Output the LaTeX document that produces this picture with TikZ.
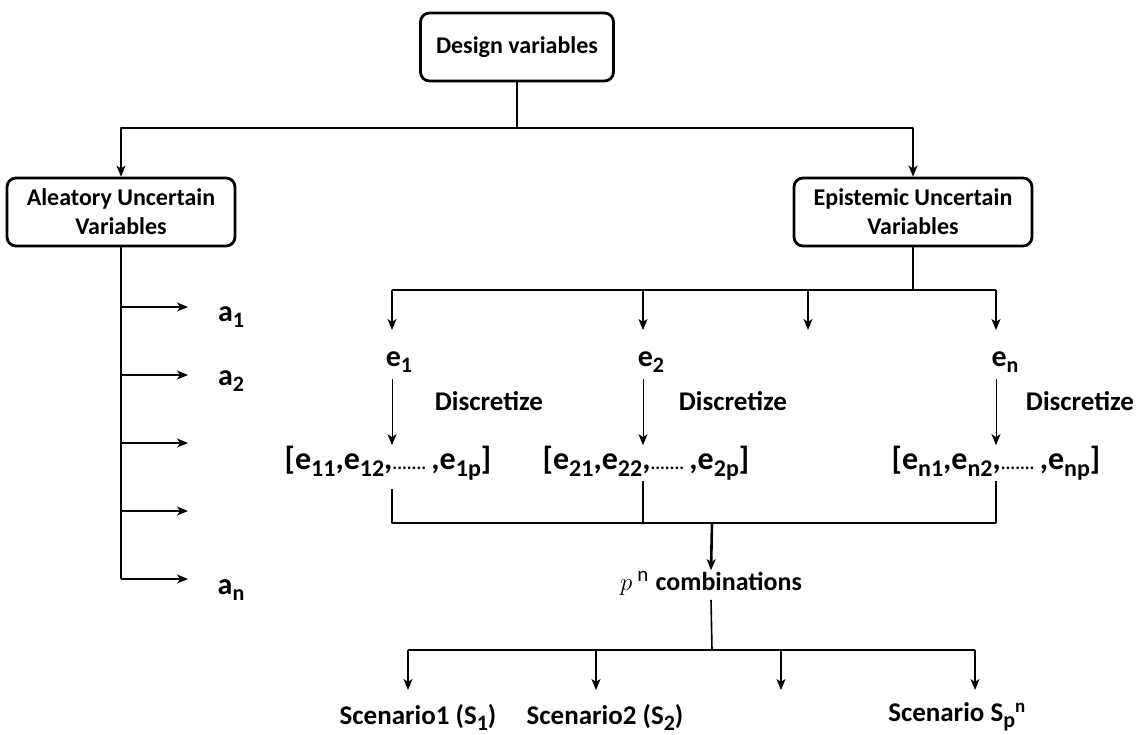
\documentclass[tikz,border=0pt]{standalone}
\usepackage{fontspec}
\setmainfont{Carlito}
\usetikzlibrary{arrows.meta}
\newcommand{\dotsline}{{\fontsize{18}{18}\selectfont.......}}
\newcommand{\lo}[1]{\raisebox{-0.22em}{\fontsize{22}{22}\selectfont #1}}
\newcommand{\lob}[1]{\raisebox{-0.22em}{\fontsize{24}{24}\selectfont #1}}
\begin{document}
\begin{tikzpicture}[x=1pt,y=-1pt,>={Stealth[length=11pt,width=9pt,inset=3pt]},line join=round,line width=1.6pt,
	hop/.style={draw,line width=2.8pt,rounded corners=9pt,align=center,inner sep=0pt,minimum height=68pt,font=\fontsize{24}{29}\selectfont\bfseries},
	var/.style={inner sep=0pt,font=\fontsize{30}{32}\selectfont\bfseries},
	set/.style={inner sep=0pt,font=\fontsize{32}{34}\selectfont\bfseries},
	note/.style={inner sep=0pt,font=\fontsize{27}{29}\selectfont\bfseries},
	thin/.style={line width=1pt}]
	\useasboundingbox (0,0) rectangle (1147,734);
	% cac hop
	\node[hop,minimum width=193pt] (dv) at (517,47) {Design variables};
	\node[hop,minimum width=228pt] (al) at (121,212) {Aleatory Uncertain\\Variables};
	\node[hop,minimum width=238pt] (ep) at (913,212) {Epistemic Uncertain\\Variables};
	\path
	(517,128) coordinate (J)
	(121,579) coordinate (A)
	(913,290) coordinate (E)
	(392,290) coordinate (E1) (643,290) coordinate (E2) (808,290) coordinate (E3) (996,290) coordinate (E4)
	(392,523) coordinate (B1) (643,523) coordinate (B2) (996,523) coordinate (B3) (712,523) coordinate (B)
	(712,650) coordinate (C)
	(408,650) coordinate (C1) (596,650) coordinate (C2) (781,650) coordinate (C3) (975,650) coordinate (C4);
	% nhanh tren
	\draw (dv) -- (J);
	\draw[->] (J) -| (al);
	\draw[->] (J) -| (ep);
	% bien ngau nhien
	\draw (al) -- (A);
	\foreach \y [count=\i] in {307,375,443,511,579}{
		\path (121,\y) coordinate (s\i) (188,\y) coordinate (t\i);
		\draw[->] (s\i) -- (t\i);
	}
	\node[var] (a1) at (231,317) {a\lo{1}};
	\node[var] (a2) at (231,381) {a\lo{2}};
	\node[var] (an) at (231,590) {a\lo{n}};
	% bien nhan thuc
	\draw (ep) -- (E);
	\draw (E1) -- (E4);
	\foreach \k in {1,...,4}{
		\draw[->] (E\k) -- ++(0,40);
	}
	\node[var] (e1) at (399,362) {e\lo{1}};
	\node[var] (e2) at (651,362) {e\lo{2}};
	\node[var] (en) at (1005,362) {e\lo{n}};
	\node[note] (d1) at (489,401) {Discretize};
	\node[note] (d2) at (733,401) {Discretize};
	\node[note] (dn) at (1080,401) {Discretize};
	\node[set] (r1) at (388,463) {[e\lob{11},e\lob{12},\dotsline\,,e\lob{1p}]};
	\node[set] (r2) at (646,463) {[e\lob{21},e\lob{22},\dotsline\,,e\lob{2p}]};
	\node[set] (rn) at (996,463) {[e\lob{n1},e\lob{n2},\dotsline\,,e\lob{np}]};
	\draw[thin,->] (e1.south -| E1) ++(0,6) -- (r1.north -| E1);
	\draw[thin,->] (e2.south -| E2) ++(0,6) -- (r2.north -| E2);
	\draw[thin,->] (en.south -| E4) ++(0,6) -- (rn.north -| E4);
	% to hop
	\draw (r1.south -| B1) ++(0,8) -- (B1) -- (B3) -- (rn.south -| B3) ++(0,8);
	\draw (B2) -- (r2.south -| B2) ++(0,8);
	\node[note] (pc) at (711,583) {\fontsize{30}{30}\selectfont$p$\,\textsuperscript{\mdseries n} \fontsize{26}{28}\selectfont combinations};
	\draw[line width=2.6pt,->] (B) -- (pc.north);
	\draw (pc.south) ++(0,4) -- (C);
	\draw[line width=2.6pt] (C1) -- (C4);
	\foreach \k in {1,...,4}{
		\draw[->] (C\k) -- ++(0,40);
	}
	\node[note] (sc1) at (418,717) {Scenario1 (S\lo{1})};
	\node[note] (sc2) at (605,717) {Scenario2 (S\lo{2})};
	\node[note] (scn) at (957,717) {Scenario S\lo{p}\textsuperscript{n}};
\end{tikzpicture}
\end{document}
